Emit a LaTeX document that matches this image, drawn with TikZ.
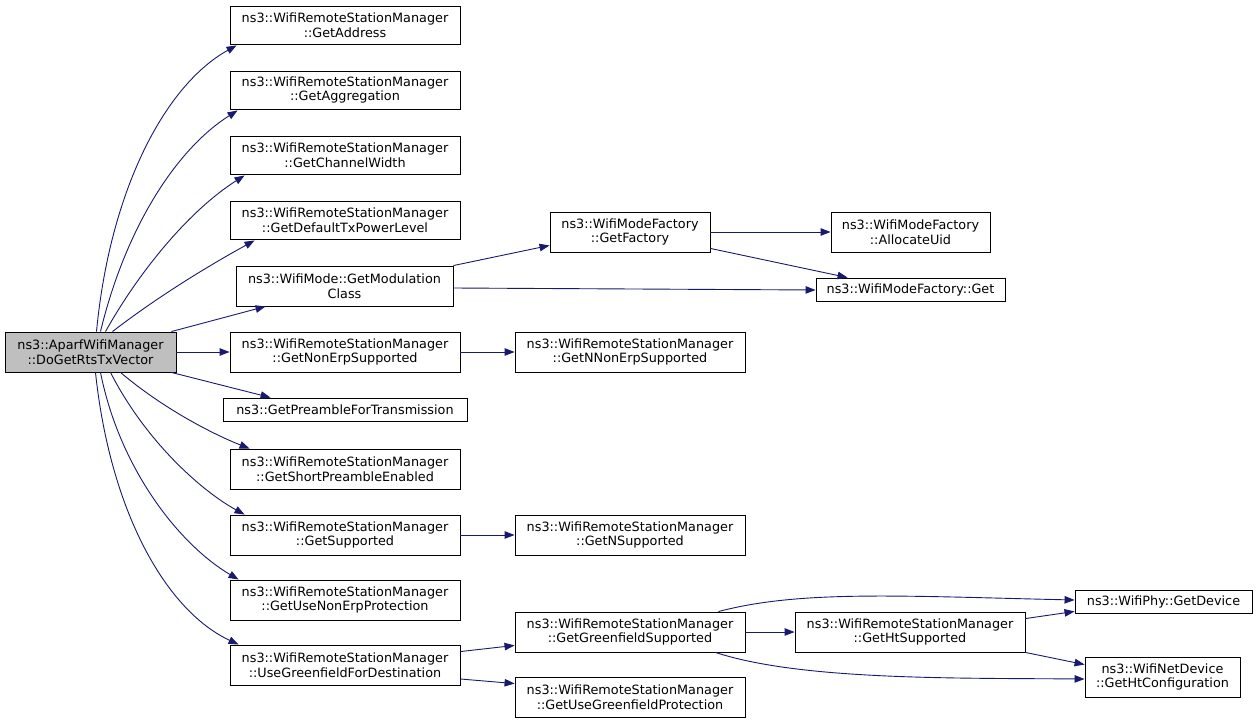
\documentclass[tikz,border=0pt]{standalone}
\usepackage{fontspec}
\setmainfont{DejaVu Sans}
\usetikzlibrary{arrows.meta}
\definecolor{edgeblue}{HTML}{191970}
\definecolor{rootgray}{HTML}{BFBFBF}
\begin{document}
\begin{tikzpicture}[x=1pt,y=-1pt,
  fnbox/.style={draw=black, line width=0.9pt, fill=white, align=center, inner sep=0pt,
    font=\fontsize{12.8}{14.6}\selectfont},
  call/.style={draw=edgeblue, line width=0.9pt, -{Triangle[length=10pt,width=7.5pt]}},
]
\useasboundingbox (0,0) rectangle (1259,723);
\fill[white] (0,0) rectangle (1259,723);

% root
\node[fnbox, fill=rootgray, minimum width=171pt, minimum height=40pt] (root) at (90.5,352) {ns3::AparfWifiManager\\::DoGetRtsTxVector};

% column 2
\node[fnbox, minimum width=230pt, minimum height=38pt] (addr) at (345,25) {ns3::WifiRemoteStationManager\\::GetAddress};
\node[fnbox, minimum width=230pt, minimum height=38pt] (aggr) at (345,90) {ns3::WifiRemoteStationManager\\::GetAggregation};
\node[fnbox, minimum width=230pt, minimum height=38pt] (chw) at (345,155) {ns3::WifiRemoteStationManager\\::GetChannelWidth};
\node[fnbox, minimum width=230pt, minimum height=38pt] (dtx) at (345,220) {ns3::WifiRemoteStationManager\\::GetDefaultTxPowerLevel};
\node[fnbox, minimum width=217pt, minimum height=40pt] (modc) at (344.5,286) {ns3::WifiMode::GetModulation\\Class};
\node[fnbox, minimum width=230pt, minimum height=40pt] (nonerp) at (345,352) {ns3::WifiRemoteStationManager\\::GetNonErpSupported};
\node[fnbox, minimum width=244pt, minimum height=23pt] (pre) at (345,409.5) {ns3::GetPreambleForTransmission};
\node[fnbox, minimum width=230pt, minimum height=40pt] (shortp) at (345,469) {ns3::WifiRemoteStationManager\\::GetShortPreambleEnabled};
\node[fnbox, minimum width=230pt, minimum height=40pt] (supp) at (345,535) {ns3::WifiRemoteStationManager\\::GetSupported};
\node[fnbox, minimum width=230pt, minimum height=40pt] (unep) at (345,600) {ns3::WifiRemoteStationManager\\::GetUseNonErpProtection};
\node[fnbox, minimum width=230pt, minimum height=40pt] (ugfd) at (345,665) {ns3::WifiRemoteStationManager\\::UseGreenfieldForDestination};

% column 3
\node[fnbox, minimum width=160pt, minimum height=40pt] (gfac) at (630,232) {ns3::WifiModeFactory\\::GetFactory};
\node[fnbox, minimum width=230pt, minimum height=40pt] (nnonerp) at (630,352) {ns3::WifiRemoteStationManager\\::GetNNonErpSupported};
\node[fnbox, minimum width=230pt, minimum height=40pt] (nsupp) at (630,535) {ns3::WifiRemoteStationManager\\::GetNSupported};
\node[fnbox, minimum width=230pt, minimum height=40pt] (gfs) at (630,632) {ns3::WifiRemoteStationManager\\::GetGreenfieldSupported};
\node[fnbox, minimum width=230pt, minimum height=40pt] (ugfp) at (630,697) {ns3::WifiRemoteStationManager\\::GetUseGreenfieldProtection};

% column 4
\node[fnbox, minimum width=159pt, minimum height=40pt] (alloc) at (910.5,232) {ns3::WifiModeFactory\\::AllocateUid};
\node[fnbox, minimum width=189pt, minimum height=23pt] (mget) at (910.5,289.5) {ns3::WifiModeFactory::Get};
\node[fnbox, minimum width=230pt, minimum height=40pt] (hts) at (910,632) {ns3::WifiRemoteStationManager\\::GetHtSupported};

% column 5
\node[fnbox, minimum width=177pt, minimum height=23pt] (gdev) at (1163.5,601.5) {ns3::WifiPhy::GetDevice};
\node[fnbox, minimum width=155pt, minimum height=40pt] (htc) at (1162.5,677) {ns3::WifiNetDevice\\::GetHtConfiguration};

% edges from root
\draw[call] ([xshift=6pt]root.north) .. controls (110,190) and (165,85) .. ([xshift=7pt,yshift=-1pt]addr.south west);
\draw[call] ([xshift=10pt]root.north) .. controls (125,230) and (175,150) .. ([xshift=8pt,yshift=-1pt]aggr.south west);
\draw[call] ([xshift=15pt]root.north) .. controls (140,270) and (190,210) .. ([xshift=15pt,yshift=-1pt]chw.south west);
\draw[call] ([xshift=22pt]root.north) .. controls (160,295) and (210,265) .. ([xshift=25pt,yshift=-1pt]dtx.south west);
\draw[call] ([xshift=-5pt]root.north east) -- ([xshift=30pt]modc.south west);
\draw[call] (root.east) -- (nonerp.west);
\draw[call] ([xshift=-5pt]root.south east) -- ([xshift=48pt]pre.north west);
\draw[call] ([xshift=30pt]root.south) .. controls (165,410) and (215,435) .. ([xshift=20pt]shortp.north west);
\draw[call] ([xshift=20pt]root.south) .. controls (145,440) and (200,490) .. ([xshift=15pt]supp.north west);
\draw[call] ([xshift=10pt]root.south) .. controls (120,470) and (180,545) .. ([xshift=9pt]unep.north west);
\draw[call] ([xshift=5pt]root.south) .. controls (110,510) and (165,610) .. ([xshift=9pt]ugfd.north west);

% further edges
\draw[call] (modc.north east) -- ([yshift=7pt]gfac.south west);
\draw[call] ([yshift=-2pt]modc.east) -- ([yshift=-0.5pt]mget.west);
\draw[call] (gfac.east) -- (alloc.west);
\draw[call] ([yshift=4pt]gfac.south east) -- ([xshift=32pt]mget.north west);
\draw[call] (nonerp.east) -- (nnonerp.west);
\draw[call] (supp.east) -- (nsupp.west);
\draw[call] ([yshift=-7pt]ugfd.north east) -- ([yshift=7pt]gfs.south west);
\draw[call] ([yshift=-14pt]ugfd.east) -- ([yshift=-7pt]ugfp.north west);
\draw[call] ([xshift=-27pt]gfs.north east) .. controls (800,590) and (900,596) .. ([yshift=1.5pt]gdev.west);
\draw[call] (gfs.east) -- (hts.west);
\draw[call] ([xshift=-30pt]gfs.south east) .. controls (800,680) and (950,678) .. ([yshift=-2pt]htc.west);
\draw[call] ([yshift=-7pt]hts.north east) -- ([yshift=2pt]gdev.south west);
\draw[call] (hts.south east) -- ([yshift=-8pt]htc.north west);
\end{tikzpicture}
\end{document}
